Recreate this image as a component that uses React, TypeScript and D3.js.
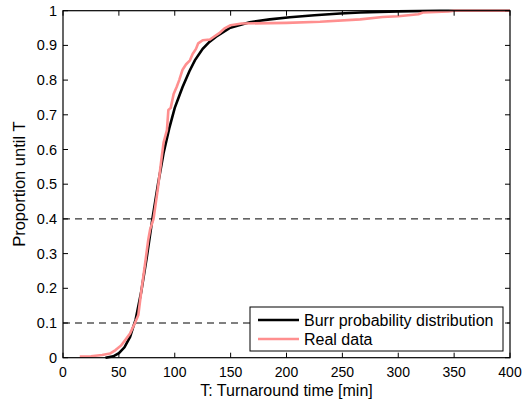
import React from "react";
import * as d3 from "d3";

const xTicks = [0, 50, 100, 150, 200, 250, 300, 350, 400];
const yTicks = [0, 0.1, 0.2, 0.3, 0.4, 0.5, 0.6, 0.7, 0.8, 0.9, 1];
const refLines = [0.1, 0.4];

const burrX = [38, 45, 50, 55, 60, 63, 65, 70, 75, 80, 85, 90, 95, 100, 107, 113, 118, 125, 131, 137, 149, 167, 185, 203, 225, 248, 266, 300, 337, 400];
const burrY = [0, 0.004, 0.013, 0.03, 0.06, 0.09, 0.11, 0.19, 0.29, 0.4, 0.5, 0.59, 0.66, 0.72, 0.78, 0.825, 0.857, 0.89, 0.91, 0.925, 0.95, 0.967, 0.975, 0.981, 0.987, 0.992, 0.995, 0.998, 1, 1];

const realX = [15, 25, 35, 42, 47, 52, 55.5, 60, 64.4, 67.4, 70, 73, 76.3, 78, 81, 85, 88, 90, 93, 94.3, 96.4, 99, 101.7, 104, 107, 110, 113.6, 116, 119, 121, 125, 131.5, 135, 140.5, 145, 150, 160, 200, 230, 266, 286, 300, 318, 322, 345, 350, 400];
const realY = [0.003, 0.004, 0.008, 0.012, 0.022, 0.035, 0.05, 0.07, 0.1, 0.123, 0.19, 0.26, 0.34, 0.37, 0.4, 0.49, 0.57, 0.62, 0.656, 0.714, 0.72, 0.76, 0.78, 0.8, 0.83, 0.845, 0.857, 0.875, 0.89, 0.906, 0.915, 0.917, 0.925, 0.937, 0.95, 0.958, 0.963, 0.965, 0.968, 0.975, 0.982, 0.984, 0.99, 0.995, 0.998, 1, 1];

const legendLabels = ["Burr probability distribution", "Real data"];
const colors = ["#000000", "#ff8f8f"];

export default function App() {
  const W = 523, H = 403;
  const L = 63, R = 510, T = 10.7, B = 357.7;
  const x = d3.scaleLinear().domain([0, 400]).range([L, R]);
  const y = d3.scaleLinear().domain([0, 1]).range([B, T]);
  const line = d3.line<[number, number]>().x(d => x(d[0])).y(d => y(d[1]));
  const burr = burrX.map((v, i) => [v, burrY[i]] as [number, number]);
  const real = realX.map((v, i) => [v, realY[i]] as [number, number]);
  const font = "Liberation Sans, Arial, sans-serif";
  const tl = 5;
  return (
    <svg width={W} height={H} style={{ position: "absolute", left: 0, top: 0 }} fontFamily={font}>
      <rect x={0} y={0} width={W} height={H} fill="#fff" />
      {refLines.map(v => (
        <line key={v} x1={L} x2={R} y1={y(v)} y2={y(v)} stroke="#000" strokeWidth={1} strokeDasharray="7,5" />
      ))}
      <path d={line(burr) || ""} fill="none" stroke={colors[0]} strokeWidth={2.6} />
      <path d={line(real) || ""} fill="none" stroke={colors[1]} strokeWidth={2.6} strokeLinejoin="round" />
      <rect x={L} y={T} width={R - L} height={B - T} fill="none" stroke="#000" strokeWidth={1.2} />
      {xTicks.map(v => (
        <g key={v}>
          <line x1={x(v)} x2={x(v)} y1={B} y2={B - tl} stroke="#000" />
          <line x1={x(v)} x2={x(v)} y1={T} y2={T + tl} stroke="#000" />
          <text x={x(v)} y={377} fontSize={14} textAnchor="middle">{v}</text>
        </g>
      ))}
      {yTicks.map(v => (
        <g key={v}>
          <line x1={L} x2={L + tl} y1={y(v)} y2={y(v)} stroke="#000" />
          <line x1={R} x2={R - tl} y1={y(v)} y2={y(v)} stroke="#000" />
          <text x={57} y={y(v) + 5} fontSize={14.5} textAnchor="end">{d3.format("")(v)}</text>
        </g>
      ))}
      <text x={(L + R) / 2} y={396} fontSize={16} textAnchor="middle">T: Turnaround time [min]</text>
      <text transform={`translate(25,${(T + B) / 2}) rotate(-90)`} fontSize={16.5} textAnchor="middle">Proportion until T</text>
      <rect x={250} y={307} width={253} height={44} fill="#fff" stroke="#000" strokeWidth={1} />
      {legendLabels.map((lab, i) => (
        <g key={lab}>
          <line x1={258} x2={299} y1={320 + i * 19} y2={320 + i * 19} stroke={colors[i]} strokeWidth={2.6} />
          <text x={304} y={325.5 + i * 19} fontSize={16}>{lab}</text>
        </g>
      ))}
    </svg>
  );
}
